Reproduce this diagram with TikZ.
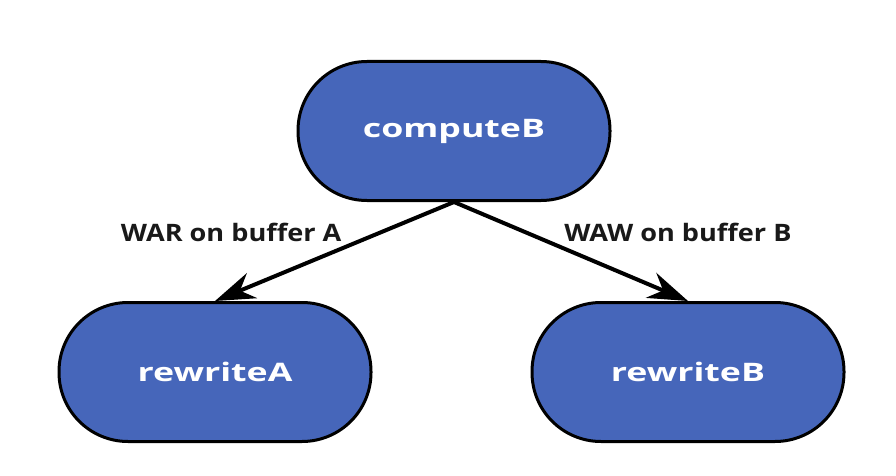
\documentclass[tikz,border=0pt]{standalone}
\usepackage{fontspec}
\setsansfont{Open Sans}
\usetikzlibrary{arrows.meta, positioning}
\definecolor{pillblue}{RGB}{70,102,186}
\newcommand{\widetext}[2][1.4]{\scalebox{#1}[1]{#2}}

\begin{document}
\begin{tikzpicture}[
    x=1pt, y=1pt,
    node distance=241pt,
    kernel/.style={rectangle, rounded corners=69pt, minimum width=312pt, minimum height=139pt, text centered, draw=black, line width=3pt, fill=pillblue, text=white, font=\sffamily\bfseries\fontsize{25.5}{30}\selectfont},
    dep/.style={font=\sffamily\bfseries\fontsize{24}{28}\selectfont, text=black!90, inner sep=3pt},
    arrow/.style={line width=4pt, -{Stealth[length=40pt, width=27pt]}}
]
\useasboundingbox (0,0) rectangle (896,-476);

\node (computeB) [kernel] at (454,-131) {\widetext{computeB}};
\node (rewriteA) [kernel, below of=computeB, xshift=-239pt] {\widetext{rewriteA}};
\node (rewriteB) [kernel, below of=computeB, xshift=234pt] {\widetext{rewriteB}};

\draw [arrow] (computeB.south) -- node[dep, pos=0.45, anchor=south east] {\widetext[1.13]{WAR on buffer A}} (rewriteA.north);
\draw [arrow] (computeB.south) -- node[dep, pos=0.45, anchor=south west] {\widetext[1.13]{WAW on buffer B}} (rewriteB.north);

\end{tikzpicture}
\end{document}
